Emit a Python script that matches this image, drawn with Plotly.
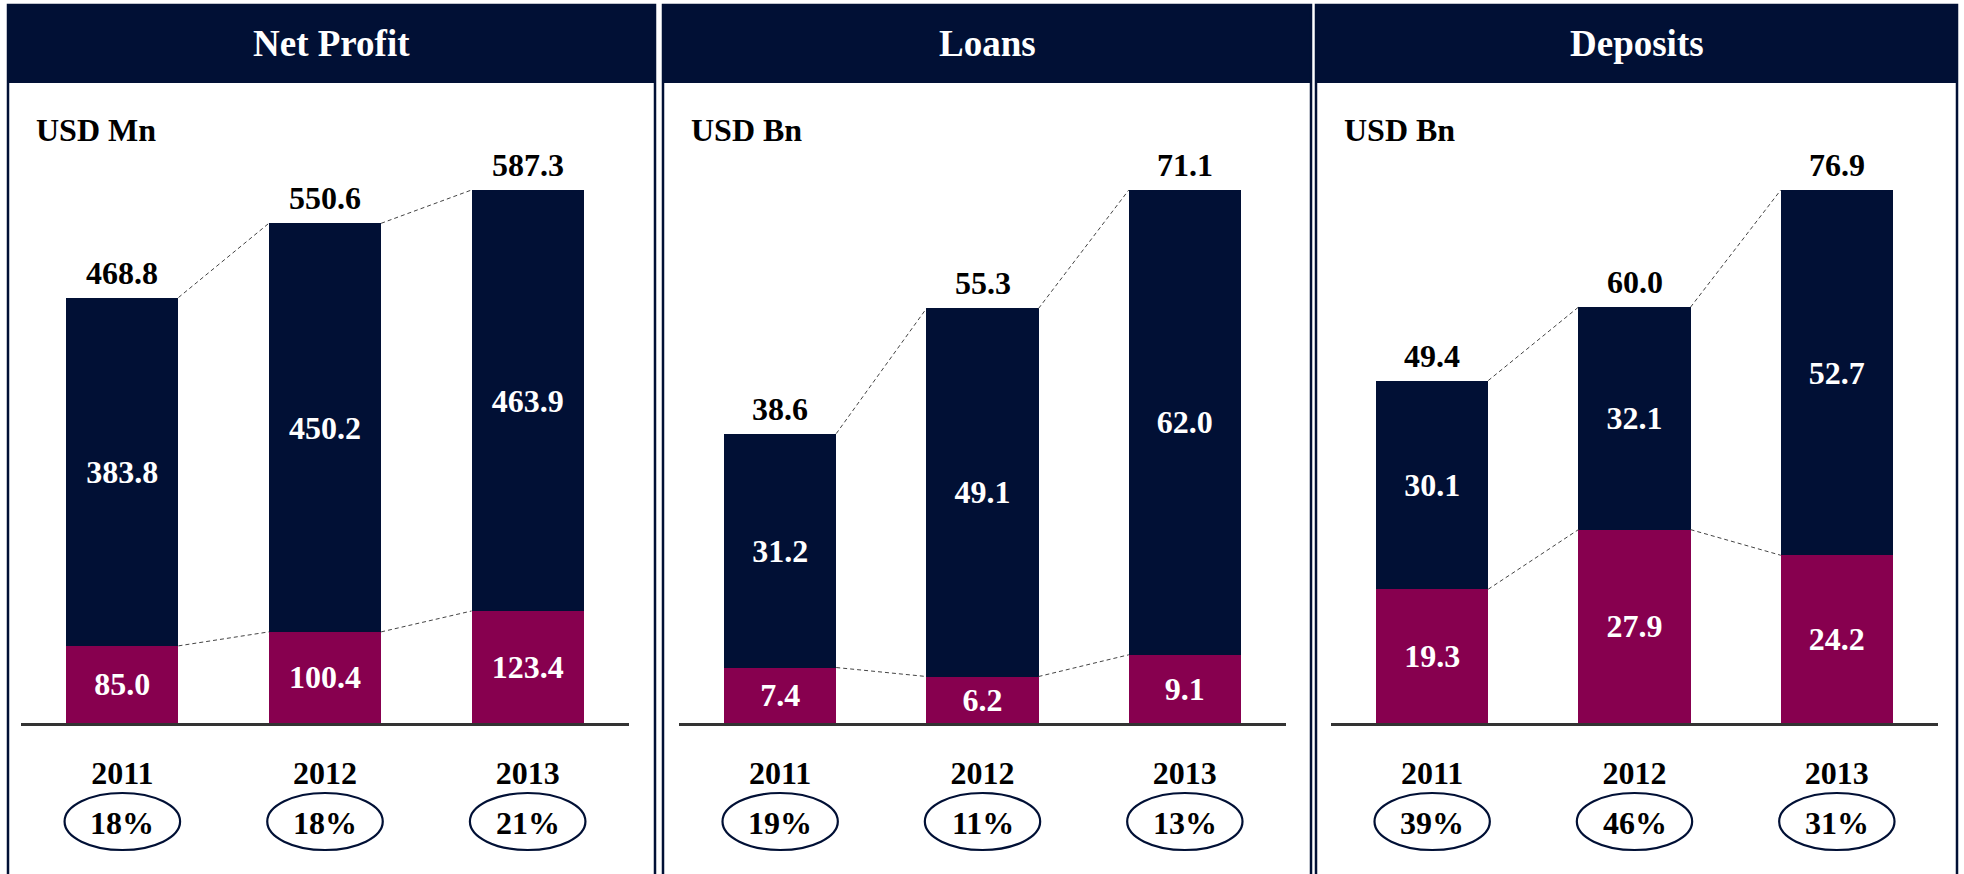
import plotly.graph_objects as go

# ---------------- data ----------------
years = ["2011", "2012", "2013"]
panel_titles = ["Net Profit", "Loans", "Deposits"]
units = ["USD Mn", "USD Bn", "USD Bn"]

np_bottom = [85.0, 100.4, 123.4]
np_top = [383.8, 450.2, 463.9]
np_total = [468.8, 550.6, 587.3]
np_pct = ["18%", "18%", "21%"]

loans_bottom = [7.4, 6.2, 9.1]
loans_top = [31.2, 49.1, 62.0]
loans_total = [38.6, 55.3, 71.1]
loans_pct = ["19%", "11%", "13%"]

dep_bottom = [19.3, 27.9, 24.2]
dep_top = [30.1, 32.1, 52.7]
dep_total = [49.4, 60.0, 76.9]
dep_pct = ["39%", "46%", "31%"]

panels = [
    (np_bottom, np_top, np_total, np_pct),
    (loans_bottom, loans_top, loans_total, loans_pct),
    (dep_bottom, dep_top, dep_total, dep_pct),
]

# ---------------- styling ----------------
W, H = 1964, 874
NAVY = "#011035"
PURPLE = "#87004F"
FONT = "Liberation Serif"
FS = 32
BAR_W = 0.554


def fx(x):
    return x / W


def fy(y):
    return 1 - y / H


axis_px = [(21, 629), (679, 1286), (1331, 1938)]
panel_px = [(8, 655), (663, 1311), (1316, 1957)]
y_dom = [fy(723), fy(190)]

fig = go.Figure()
shapes = []
annotations = []

xs = [0, 1, 2]
for k, (bottom, top, total, pct) in enumerate(panels):
    xa = "x" if k == 0 else f"x{k+1}"
    ya = "y" if k == 0 else f"y{k+1}"
    fig.add_trace(go.Bar(
        x=xs, y=bottom, width=BAR_W, marker=dict(color=PURPLE, line=dict(width=0)),
        text=[f"{v:.1f}" for v in bottom], textposition="inside",
        insidetextanchor="middle", textangle=0, constraintext="none",
        textfont=dict(family=FONT, size=FS, color="white", weight="bold"),
        xaxis=xa, yaxis=ya, showlegend=False, hoverinfo="skip"))
    fig.add_trace(go.Bar(
        x=xs, y=top, width=BAR_W, marker=dict(color=NAVY, line=dict(width=0)),
        text=[f"{v:.1f}" for v in top], textposition="inside",
        insidetextanchor="middle", textangle=0, constraintext="none",
        textfont=dict(family=FONT, size=FS, color="white", weight="bold"),
        xaxis=xa, yaxis=ya, showlegend=False, hoverinfo="skip"))
    # connectors
    for series in (total, bottom):
        for i in range(len(xs) - 1):
            fig.add_trace(go.Scatter(
                x=[xs[i] + BAR_W / 2, xs[i + 1] - BAR_W / 2],
                y=[series[i], series[i + 1]], mode="lines",
                line=dict(color="#444444", width=1, dash="4px,3px"),
                xaxis=xa, yaxis=ya, showlegend=False, hoverinfo="skip"))
    # totals
    for i in xs:
        annotations.append(dict(xref=xa, yref=ya, x=xs[i], y=total[i],
                                text=f"{total[i]:.1f}", showarrow=False,
                                xanchor="center", yanchor="bottom", yshift=5,
                                font=dict(family=FONT, size=FS, color="black", weight="bold")))

    ax0, ax1 = axis_px[k]
    xkey = "xaxis" if k == 0 else f"xaxis{k+1}"
    ykey = "yaxis" if k == 0 else f"yaxis{k+1}"
    fig.update_layout(**{
        xkey: dict(domain=[fx(ax0), fx(ax1)], range=[-0.5, 2.5], anchor=ya,
                   tickvals=xs, ticktext=years, ticks="", showgrid=False,
                   zeroline=False, showline=True, linecolor="#333333", linewidth=2.5,
                   tickfont=dict(family=FONT, size=FS, color="black", weight="bold"),
                   ticklabelstandoff=20, fixedrange=True),
        ykey: dict(domain=y_dom, range=[0, max(total)], anchor=xa, visible=False,
                   showgrid=False, zeroline=False, fixedrange=True),
    })

    # panel frame and header
    p0, p1 = panel_px[k]
    shapes.append(dict(type="rect", xref="paper", yref="paper",
                       x0=fx(p0), x1=fx(p1), y0=fy(5), y1=fy(83),
                       fillcolor=NAVY, line=dict(width=0), layer="below"))
    shapes.append(dict(type="rect", xref="paper", yref="paper",
                       x0=fx(p0), x1=fx(p1), y0=-0.05, y1=fy(5),
                       fillcolor="rgba(0,0,0,0)", line=dict(color=NAVY, width=2.5)))
    annotations.append(dict(xref="paper", yref="paper", x=fx((p0 + p1) / 2), y=fy(44),
                            text=panel_titles[k], showarrow=False,
                            font=dict(family=FONT, size=37, color="white", weight="bold"),
                            xanchor="center", yanchor="middle"))
    annotations.append(dict(xref="paper", yref="paper", x=fx(p0 + 26), y=fy(130),
                            text=units[k], showarrow=False,
                            font=dict(family=FONT, size=FS, color="black", weight="bold"),
                            xanchor="left", yanchor="middle"))
    # growth ellipses
    for i in xs:
        shapes.append(dict(type="circle", xref=xa, yref="paper",
                           x0=xs[i] - 0.285, x1=xs[i] + 0.285, y0=fy(850), y1=fy(793),
                           line=dict(color=NAVY, width=2.2), fillcolor="rgba(0,0,0,0)"))
        annotations.append(dict(xref=xa, yref="paper", x=xs[i], y=fy(823),
                                text=pct[i], showarrow=False,
                                font=dict(family=FONT, size=FS, color="black", weight="bold"),
                                xanchor="center", yanchor="middle"))

fig.update_layout(
    width=W, height=H, margin=dict(l=0, r=0, t=0, b=0),
    paper_bgcolor="white", plot_bgcolor="white",
    barmode="stack", shapes=shapes, annotations=annotations,
    font=dict(family=FONT),
)

fig.write_html("out.html", config={"displayModeBar": False},
               post_script="document.body.style.margin='0px';document.body.style.overflow='hidden';")
